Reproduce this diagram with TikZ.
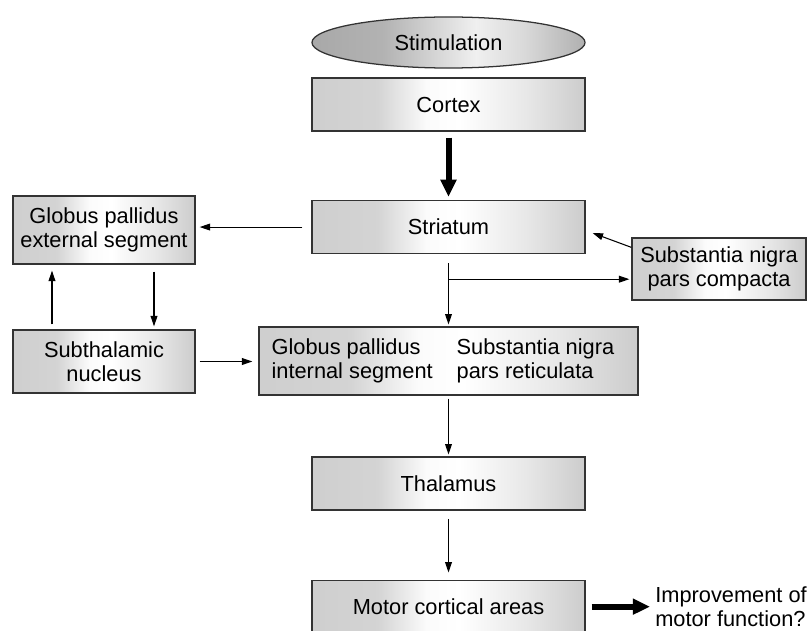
\documentclass[tikz,border=0pt]{standalone}
\usepackage{fontspec}
\setmainfont{Liberation Sans}
\usetikzlibrary{arrows.meta,shapes.geometric,positioning}
\pgfdeclarehorizontalshading{boxshade}{100bp}{color(0bp)=(gray!38); color(25bp)=(gray!38);
  color(37bp)=(gray!34); color(46bp)=(gray!3); color(52bp)=(white); color(64bp)=(gray!18);
  color(75bp)=(gray!40); color(100bp)=(gray!40)}
\pgfdeclarehorizontalshading{ovalshade}{100bp}{color(0bp)=(gray!68); color(25bp)=(gray!68);
  color(38bp)=(gray!60); color(55bp)=(gray!12); color(64bp)=(gray!30); color(75bp)=(gray!62);
  color(100bp)=(gray!62)}
\tikzstyle{box}=[draw=black!80, line width=0.9pt, shading=boxshade, inner sep=0pt,
  minimum width=6.825cm, minimum height=1.325cm, align=center]
\tikzstyle{oval}=[ellipse, draw=black!80, line width=0.9pt, shading=ovalshade, inner sep=0pt,
  minimum width=6.825cm, minimum height=1.275cm]
\tikzstyle{link}=[-{Triangle[length=2.6mm,width=1.7mm]}, line width=0.75pt]
\tikzstyle{heavy}=[-{Triangle[length=4.3mm,width=3.8mm]}, line width=1.5mm]

\begin{document}
\begin{tikzpicture}[x=0.025cm, y=-0.025cm, node distance=3.0625cm, on grid,
    font=\fontsize{15.5}{17.2}\selectfont]
  \useasboundingbox (0,0) rectangle (807,630);

  \node[oval] (stim) at (448.5,42.5) {Stimulation};
  \node[box, below=1.55cm of stim] (ctx) {Cortex};
  \node[box, below=of ctx] (str) {Striatum};
  \node[box, below=3.35cm of str, minimum width=9.475cm, minimum height=1.7cm] (gpi) {};
  \node[box, below=of gpi] (thal) {Thalamus};
  \node[box, below=3.075cm of thal] (motor) {Motor cortical areas};

  \node[anchor=west, align=left, inner sep=0pt] (gpitxt) at ([xshift=3.25mm]gpi.west)
    {Globus pallidus\\internal segment};
  \node[anchor=west, align=left, inner sep=0pt] (snrtxt) at ([xshift=49.5mm]gpi.west)
    {Substantia nigra\\pars reticulata};

  \node[box, minimum width=4.55cm, minimum height=1.7cm] (gpe) at (104,230)
    {Globus pallidus\\external segment};
  \node[box, minimum width=4.55cm, minimum height=1.575cm] (stn) at (104,361.5)
    {Subthalamic\\nucleus};
  \node[box, minimum width=4.35cm, minimum height=1.55cm] (snc) at (719,269)
    {Substantia nigra\\pars compacta};
  \node[anchor=west, align=left, inner sep=0pt] (improve) at (655,607)
    {Improvement of\\motor function?};

  \coordinate (split) at ([yshift=-6.25mm]str.south);

  \draw[heavy, shorten <=1.5mm, shorten >=0.75mm] (ctx) -- (str);
  \draw[link, shorten <=2.25mm, shorten >=1mm] (str.west) -- (str.west -| gpe.east);
  \draw[link, shorten <=1.75mm, shorten >=0.75mm] ([xshift=12.5mm]gpe.south)
    -- ([xshift=12.5mm]gpe.south |- stn.north);
  \draw[link, shorten <=1.25mm, shorten >=1.5mm] ([xshift=-13mm]stn.north)
    -- ([xshift=-13mm]stn.north |- gpe.south);
  \draw[link, shorten <=1mm, shorten >=1.5mm] (stn.east) -- (stn.east -| gpi.west);
  \draw[link, shorten <=2.25mm, shorten >=0.5mm] (str) -- (gpi);
  \draw[link, shorten >=0.5mm] (split) -- (split -| snc.west);
  \draw[link] ([yshift=-2.5mm]snc.north west) -- ([xshift=1.75mm,yshift=-1.5mm]str.east);
  \draw[link, shorten <=0.75mm, shorten >=0.5mm] (gpi) -- (thal);
  \draw[link, shorten <=2mm, shorten >=1.75mm] (thal) -- (motor);
  \draw[heavy, shorten <=1.5mm, shorten >=1.25mm] (motor.east) -- (motor.east -| improve.west);

\end{tikzpicture}
\end{document}
